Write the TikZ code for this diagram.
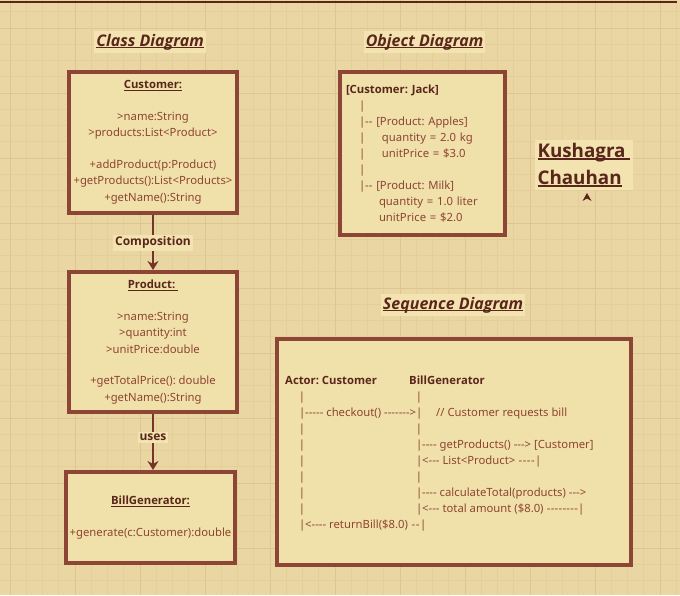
\documentclass[tikz,border=0pt]{standalone}
\usepackage{fontspec}
\setmainfont{Noto Sans}[Ligatures=TeXOff]
\newfontfamily\bfam{Open Sans}[Ligatures=TeXOff]
\usetikzlibrary{arrows.meta}
\definecolor{bgc}{HTML}{EAD6A2}
\definecolor{boxc}{HTML}{F0E1AB}
\definecolor{hl}{HTML}{F2E3B0}
\definecolor{bord}{HTML}{8D4536}
\definecolor{txt}{HTML}{8E4332}
\definecolor{dark}{HTML}{5A261B}
\definecolor{conc}{HTML}{73352A}
\definecolor{gmin}{HTML}{E4CE99}
\definecolor{gmaj}{HTML}{DFC691}
\newcommand\uln[2][0.9pt]{\leavevmode\setbox0\hbox{#2}\rlap{\rule[-2pt]{\wd0}{#1}}\box0}
\newcommand\seqline[3]{\hbox to #1{\makebox[0pt]{|}\hspace{3pt}#2\xleaders\hbox{-}\hfill#3\hspace{3pt}\makebox[0pt]{|}}}
\newcommand\lbr{\makebox[0pt]{|}\hspace{3pt}}
\newcommand\bx[1]{{\bfam\bfseries #1}}
\frenchspacing
\tikzset{
  cls/.style={draw=bord, line width=4pt, fill=boxc, text=txt, align=center, inner sep=0pt,
    font=\fontsize{11.3}{16.5}\selectfont},
  ttl/.style={fill=hl, text=dark, font=\fontsize{16}{19}\selectfont\bfam\bfseries\itshape, inner xsep=2pt, inner ysep=3pt},
  lbl/.style={fill=hl, text=dark, font=\fontsize{12}{14}\selectfont\bfam\bfseries, inner sep=2pt},
  conn/.style={draw=conc, line width=2.5pt, -{Stealth[length=9pt,width=11pt]}},
  seqt/.style={text=txt, font=\fontsize{11.3}{13}\selectfont, inner sep=0pt, anchor=base west},
  seqb/.style={text=txt, font=\fontsize{11.3}{13}\selectfont, inner sep=0pt, anchor=base},
  gridmin/.style={draw=gmin, line width=0.6pt},
  gridmaj/.style={draw=gmaj, line width=0.9pt},
}
\begin{document}
\begin{tikzpicture}[x=1pt,y=-1pt]
\useasboundingbox (0,0) rectangle (680,595);
\fill[bgc] (0,0) rectangle (680,595);
\foreach \i in {0,...,41} \draw[gridmin] ({10+16.25*\i},0) -- ({10+16.25*\i},595);
\foreach \i in {0,...,36} \draw[gridmin] (0,{11.75+16.25*\i}) -- (680,{11.75+16.25*\i});
\foreach \i in {0,...,10} \draw[gridmaj] ({10+65*\i},0) -- ({10+65*\i},595);
\foreach \i in {0,...,8} \draw[gridmaj] (0,{28+65*\i}) -- (680,{28+65*\i});
\draw[line width=2pt, dark] (0,2) -- (677,2);

% titles
\node[ttl] (t1) at (150,42) {\uln[1.5pt]{Class Diagram}};
\node[ttl] (t2) at (424.5,42) {\uln[1.5pt]{Object Diagram}};
\node[ttl] (t3) at (453,305) {\uln[1.5pt]{Sequence Diagram}};

% class diagram
\node[cls, minimum width=168pt, minimum height=141pt] (cust) at (153,142.5)
  {\textcolor{dark}{\bx{\uln{Customer:}}}\\[15pt] >name:String\\ >products:List<Product>\\[15pt]
   +addProduct(p:Product)\\ +getProducts():List<Products>\\ +getName():String};
\node[cls, minimum width=168pt, minimum height=140pt] (prod) at (153,342)
  {\textcolor{dark}{\bx{\uln{Product:\ }}}\\[15pt] >name:String\\ >quantity:int\\ >unitPrice:double\\[15pt]
   +getTotalPrice(): double\\ +getName():String};
\node[cls, minimum width=169pt, minimum height=91pt] (bill) at (150.5,517.5)
  {\textcolor{dark}{\bx{\uln{BillGenerator:}}}\\[15pt] +generate(c:Customer):double};
\draw[conn] (cust.south) -- node[lbl] (l1) {Composition} (prod.north);
\draw[conn] (prod.south) -- node[lbl, pos=0.42] (l2) {uses} (prod.south |- bill.north);

% object diagram
\node[draw=bord, line width=4pt, fill=boxc, text=txt, minimum width=165pt, minimum height=163pt,
  text width=153pt, align=left, inner xsep=6pt, inner ysep=0pt, font=\fontsize{11.3}{16.1}\selectfont]
  (obj) at (422.5,153.5)
  {\textcolor{dark}{\bx{[Customer: Jack]}}\\
   \hspace*{13pt}|\\
   \hspace*{13pt}|-- [Product: Apples]\\
   \hspace*{13pt}\makebox[23pt][l]{|}quantity = 2.0 kg\\
   \hspace*{13pt}\makebox[23pt][l]{|}unitPrice = \$3.0\\
   \hspace*{13pt}|\\
   \hspace*{13pt}|-- [Product: Milk]\\
   \hspace*{33pt}quantity = 1.0 liter\\
   \hspace*{33pt}unitPrice = \$2.0};

% name
\node[fill=hl, text=dark, font=\fontsize{18.8}{27}\selectfont\bfam\bfseries, align=left, inner sep=3pt]
  (name) at (584,165) {\uln[1.7pt]{Kushagra\ }\\\uln[1.7pt]{Chauhan}};
\fill[dark] (587,193) -- (591.5,201) -- (587,198.5) -- (582.5,201) -- cycle;

% sequence diagram
\node[draw=bord, line width=4pt, fill=boxc, minimum width=354pt, minimum height=226pt] (seq) at (454,452) {};
\node[seqt, text=dark, font=\fontsize{11.3}{13}\selectfont\bfam\bfseries] (h1) at (285,384) {Actor: Customer};
\node[seqt, text=dark, font=\fontsize{11.3}{13}\selectfont\bfam\bfseries] (h2) at (409,384) {BillGenerator};
\foreach \i in {1,3,4,5,6,7,8} \node[seqb] (cb\i) at (302,{384+16.1*\i}) {|};
\foreach \i in {1,3,6} \node[seqb] (bb\i) at (419,{384+16.1*\i}) {|};
\node[seqt] (m1) at (302,416.2) {\seqline{117pt}{-----\ checkout()\ }{>}};
\node[seqt] (m1c) at (436,416.2) {// Customer requests bill};
\node[seqt] (m2) at (419,448.4) {\lbr----\ getProducts()\ --->\ [Customer]};
\node[seqt] (m3) at (419,464.5) {\seqline{119pt}{<---\ List<Product>\ }{}};
\node[seqt] (m4) at (419,496.7) {\lbr----\ calculateTotal(products)\ --->};
\node[seqt] (m5) at (419,512.8) {\seqline{162pt}{<---\ total amount (\$8.0)\ }{}};
\node[seqt] (m6) at (302,528.9) {\seqline{121pt}{<----\ returnBill(\$8.0)\ }{}};
\end{tikzpicture}
\end{document}
